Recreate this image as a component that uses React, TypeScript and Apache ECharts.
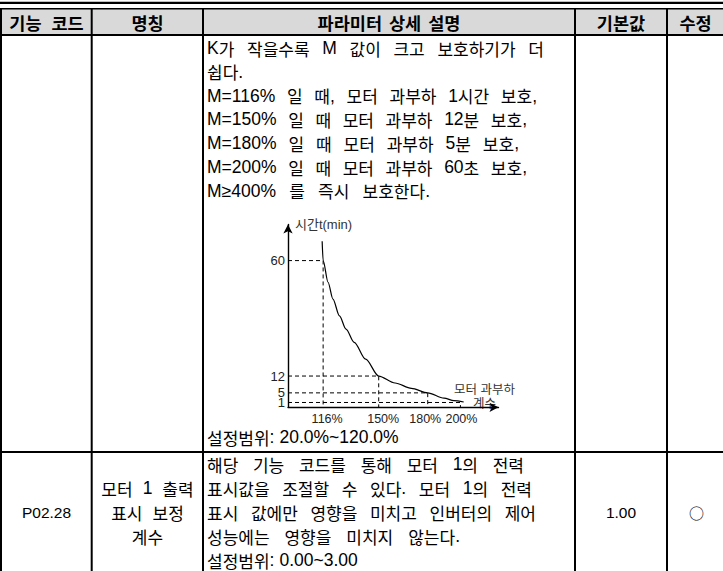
import React, { useEffect, useRef } from "react";
import * as echarts from "echarts";

// ---------- data ----------
const headerLabels = ["기능 코드", "명칭", "파라미터 상세 설명", "기본값", "수정"];
const row1Lines = [
  "K가 작을수록 M 값이 크고 보호하기가 더",
  "쉽다.",
  "M=116% 일 때, 모터 과부하 1시간 보호,",
  "M=150% 일 때 모터 과부하 12분 보호,",
  "M=180% 일 때 모터 과부하 5분 보호,",
  "M=200% 일 때 모터 과부하 60초 보호,",
  "M≥400% 를 즉시 보호한다.",
];
const row1Range = "설정범위: 20.0%~120.0%";
const row2Code = "P02.28";
const row2Name = ["모터 1 출력", "표시 보정", "계수"];
const row2Lines = [
  "해당 기능 코드를 통해 모터 1의 전력",
  "표시값을 조절할 수 있다. 모터 1의 전력",
  "표시 값에만 영향을 미치고 인버터의 제어",
  "성능에는 영향을 미치지 않는다.",
];
const row2Range = "설정범위: 0.00~3.00";
const row2Default = "1.00";
const row2Modify = "○";

// overload factor M (%) and protection time t (min)
const overloadFactor = [116, 150, 180, 200];
const protectTime = [60, 12, 5, 1];
const curveM = [115.4, 116, 119, 122, 126, 130, 135, 142, 150, 160, 170, 180, 190, 196, 202];
const curveT = [68, 60, 51, 44, 37, 31.5, 26, 19, 12, 9.1, 6.9, 5, 2.8, 1.8, 1.2];
const xTickValues = [116, 150, 180, 200];
const yTickValues = [1, 5, 12, 60];
const xAxisName = "모터 과부하\n계수";
const yAxisName = "시간t(min)";

// ---------- helpers ----------
const KO = '"Noto Sans CJK KR"';
const LAT = '"Liberation Sans"';
const HANGUL = /[\u1100-\u11FF\u3130-\u318F\uAC00-\uD7AF]/;
const RUNS = /[\u1100-\u11FF\u3130-\u318F\uAC00-\uD7AF]+|[^\u1100-\u11FF\u3130-\u318F\uAC00-\uD7AF]+/g;

type LineOpt = {
  x?: number;
  cx?: number;
  y: number;
  right?: number;
  gap?: number;
  ko?: number;
  lat?: number;
  weight?: string;
  fill?: string;
};

function buildLine(ctx: CanvasRenderingContext2D, text: string, o: LineOpt): any[] {
  const ko = o.ko ?? 17;
  const lat = o.lat ?? 17.5;
  const weight = o.weight ?? "normal";
  const words = text.split(" ");
  const wordRuns = words.map((w) => {
    const runs = w.match(RUNS) || [];
    return runs.map((r) => {
      const isKo = HANGUL.test(r);
      const size = isKo ? ko : lat;
      const fam = isKo ? KO : LAT;
      ctx.font = `${weight} ${size}px ${fam}`;
      return { text: r, size, fam, w: ctx.measureText(r).width };
    });
  });
  const widths = wordRuns.map((rs) => rs.reduce((s, r) => s + r.w, 0));
  const total = widths.reduce((a, b) => a + b, 0);
  let gap = o.gap ?? 9;
  let x0 = o.x ?? 0;
  if (o.right != null && words.length > 1) gap = (o.right - x0 - total) / (words.length - 1);
  const full = total + gap * (words.length - 1);
  if (o.cx != null) x0 = o.cx - full / 2;
  const els: any[] = [];
  let x = x0;
  wordRuns.forEach((rs) => {
    rs.forEach((r) => {
      els.push({
        type: "text",
        silent: true,
        style: {
          text: r.text,
          x,
          y: o.y,
          fontSize: r.size,
          fontFamily: r.fam,
          fontWeight: weight,
          fill: o.fill ?? "#000",
          align: "left",
          verticalAlign: "middle",
        },
      });
      x += r.w;
    });
    x += gap;
  });
  return els;
}

const rect = (x: number, y: number, w: number, h: number, fill = "#000") => ({
  type: "rect",
  silent: true,
  shape: { x, y, width: w, height: h },
  style: { fill },
});

// small horizontal nudges of the x tick labels (label padding, as in the reference)
const xLabelPad: Record<number, number[]> = {
  116: [0, 0, 0, 8],
  150: [0, 0, 0, 9],
  180: [0, 5, 0, 0],
  200: [0, 0, 0, 2],
};

export default function App() {
  const ref = useRef<HTMLDivElement>(null);

  useEffect(() => {
    if (!ref.current) return;
    const chart = echarts.init(ref.current, null, { renderer: "svg" });
    const canvas = document.createElement("canvas");
    const ctx = canvas.getContext("2d") as CanvasRenderingContext2D;

    const W = 723;
    const colX = [0, 90.7, 202, 574, 666];
    const colCenters = [46.5, 147.5, 389, 621, 695.5];
    const textLeft = 207;

    const elements: any[] = [];
    // table structure
    elements.push(rect(0, 1.7, W, 2.2));
    elements.push(rect(0, 8.5, W, 26, "#d9d9d9"));
    elements.push(rect(0, 8, W, 1.5));
    elements.push(rect(0, 34, W, 2));
    elements.push(rect(0, 451, W, 2));
    colX.forEach((x) => elements.push(rect(x, 8, 2, 571 - 8)));

    // header
    headerLabels.forEach((h, i) => {
      elements.push(
        ...buildLine(ctx, h, { cx: colCenters[i], y: 22, gap: i === 0 ? 10 : 7, ko: 17.5, weight: "bold" })
      );
    });

    // row 1
    const row1Right = [544, undefined, 537, 527, 519, 527, 430];
    row1Lines.forEach((line, i) => {
      elements.push(
        ...buildLine(ctx, line, { x: textLeft, y: 48 + i * 23.8, right: row1Right[i] })
      );
    });
    elements.push(...buildLine(ctx, row1Range, { x: textLeft, y: 437, gap: 5 }));

    // row 2
    const row2Right = [524, 532, 536, 460];
    row2Lines.forEach((line, i) => {
      elements.push(...buildLine(ctx, line, { x: textLeft, y: 464 + i * 24, right: row2Right[i] }));
    });
    elements.push(...buildLine(ctx, row2Range, { x: textLeft, y: 560, gap: 5 }));
    row2Name.forEach((line, i) => {
      elements.push(...buildLine(ctx, line, { cx: colCenters[1], y: 488 + i * 24, gap: 10 }));
    });
    elements.push(...buildLine(ctx, row2Code, { cx: colCenters[0], y: 512, lat: 15.5 }));
    elements.push(...buildLine(ctx, row2Default, { cx: colCenters[3], y: 512, lat: 15.5 }));
    elements.push({
      type: "text",
      silent: true,
      style: {
        text: row2Modify,
        x: colCenters[4] + 1,
        y: 512,
        fontSize: 15,
        fontFamily: KO,
        fill: "#000",
        align: "center",
        verticalAlign: "middle",
      },
    });

    // chart
    const xMin = 94.5;
    const xMax = 223.3;
    const yMin = -1;
    const yMax = 75;

    const refSeries = overloadFactor.map((m, i) => ({
      type: "line",
      data: [
        [xMin, protectTime[i]],
        [m, protectTime[i]],
        [m, yMin],
      ],
      symbol: "none",
      silent: true,
      lineStyle: { color: "#000", width: 1, type: [4, 3] },
      z: 2,
    }));

    const rich: any = {};
    xTickValues.forEach((v) => {
      rich["t" + v] = {
        fontSize: 12.5,
        fontFamily: LAT,
        color: "#222",
        padding: xLabelPad[v] || [0, 0, 0, 0],
      };
    });

    const option: any = {
      animation: false,
      backgroundColor: "#fff",
      grid: {
        left: 288,
        top: 224.5,
        width: 210.5,
        height: 407.3 - 224.5,
        containLabel: false,
        outerBoundsMode: "none",
      },
      xAxis: {
        type: "value",
        min: xMin,
        max: xMax,
        name: xAxisName,
        nameLocation: "end",
        nameGap: -14,
        nameTextStyle: {
          fontSize: 12.5,
          color: "#333",
          fontFamily: `${LAT}, ${KO}`,
          align: "center",
          verticalAlign: "bottom",
          lineHeight: 14.5,
          padding: [0, 0, -4, 0],
        },
        axisLine: {
          onZero: false,
          symbol: ["none", "arrow"],
          symbolSize: [7, 9],
          lineStyle: { color: "#000", width: 1.4 },
        },
        axisTick: { show: false },
        splitLine: { show: false },
        axisLabel: {
          // end values carry empty labels so no real tick label is dropped for overlap
          customValues: [xMin, ...xTickValues, xMax],
          formatter: (v: number) => (xTickValues.includes(v) ? `{t${v}|${v}%}` : ""),
          rich,
          margin: 5,
          fontSize: 12.5,
          color: "#222",
          fontFamily: LAT,
          hideOverlap: false,
        },
      },
      yAxis: {
        type: "value",
        min: yMin,
        max: yMax,
        name: yAxisName,
        nameLocation: "end",
        nameGap: 0,
        nameTextStyle: {
          fontSize: 13,
          color: "#333",
          fontFamily: `${LAT}, ${KO}`,
          align: "left",
          verticalAlign: "middle",
          padding: [0, 0, 0, 7],
        },
        axisLine: {
          show: true,
          onZero: false,
          symbol: ["none", "arrow"],
          symbolSize: [7, 9],
          lineStyle: { color: "#000", width: 1.4 },
        },
        axisTick: { show: false },
        splitLine: { show: false },
        axisLabel: {
          customValues: [yMin, ...yTickValues, yMax],
          formatter: (v: number) => (yTickValues.includes(v) ? `${v}` : ""),
          margin: 3,
          fontSize: 13,
          lineHeight: 9,
          color: "#222",
          fontFamily: LAT,
          hideOverlap: false,
        },
      },
      series: [
        ...refSeries,
        {
          type: "line",
          data: curveM.map((m, i) => [m, curveT[i]]),
          symbol: "none",
          smooth: 0.3,
          smoothMonotone: "x",
          silent: true,
          lineStyle: { color: "#000", width: 1.2 },
          z: 3,
        },
      ],
      graphic: { elements },
    };

    chart.setOption(option);
    return () => chart.dispose();
  }, []);

  return (
    <div
      ref={ref}
      style={{ position: "absolute", left: 0, top: 0, width: 723, height: 571, background: "#fff" }}
    />
  );
}
